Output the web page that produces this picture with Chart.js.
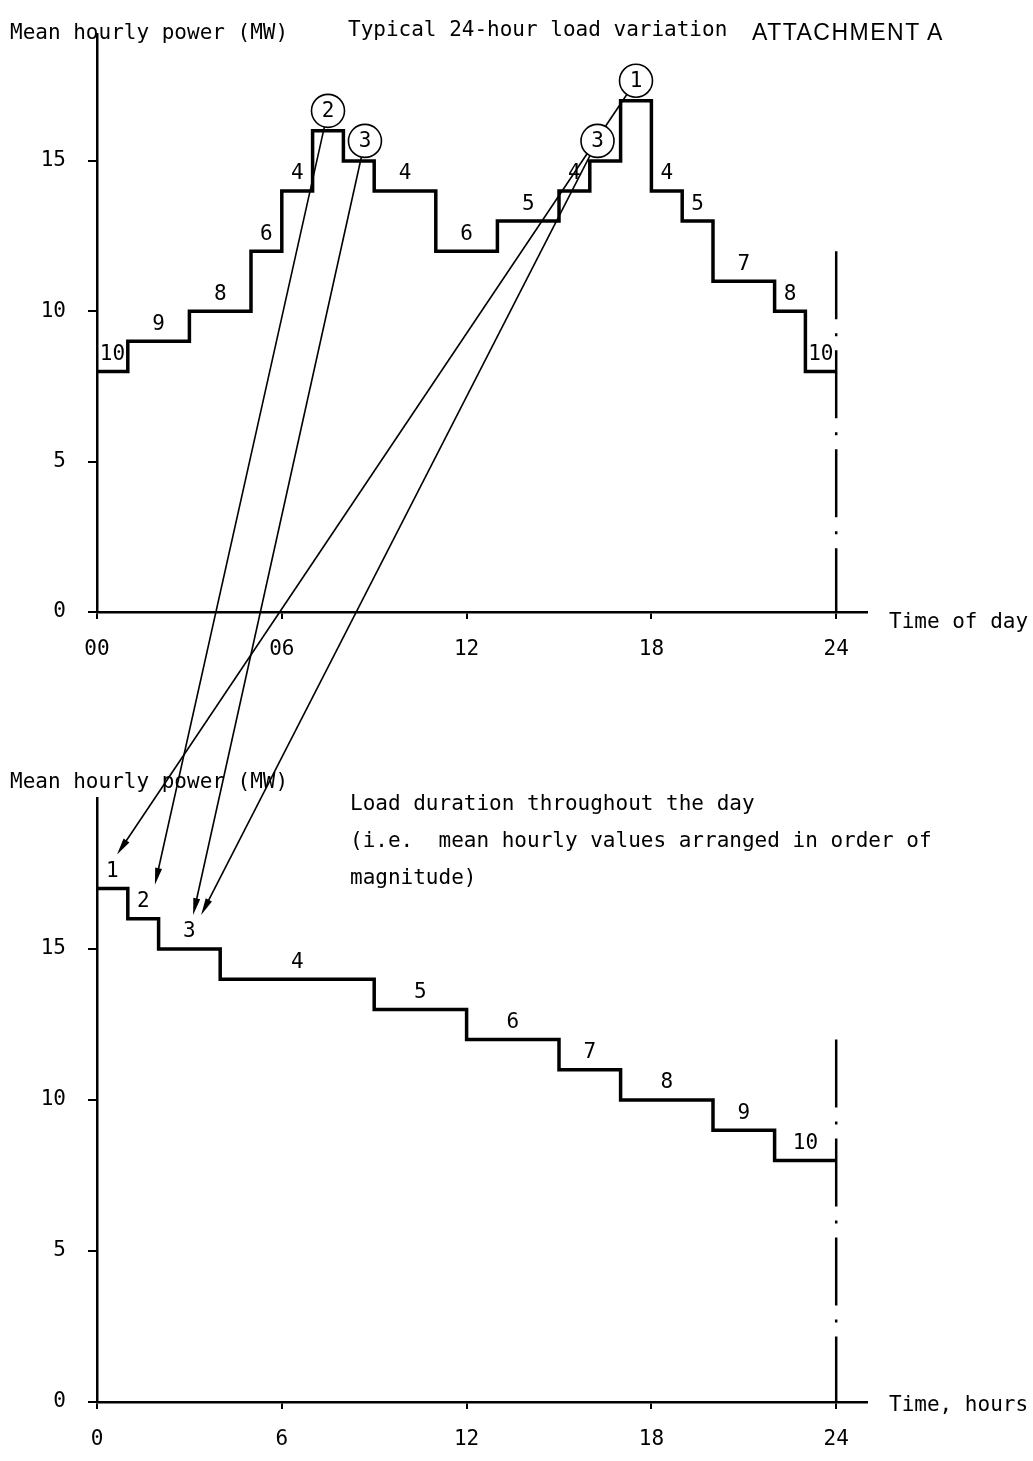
<!DOCTYPE html>
<html>
<head>
<meta charset="utf-8">
<title>Typical 24-hour load variation / load duration</title>
<script src="https://cdn.jsdelivr.net/npm/chart.js@4.4.1/dist/chart.umd.min.js"></script>
<style>
  html, body { margin: 0; padding: 0; background: #fff; }
  #page { position: relative; width: 1033px; height: 1461px; overflow: hidden; }
  #page canvas { position: absolute; left: 0; top: 0; }
  #attachment { position: absolute; left: 752px; top: 21px; font: 23px "Liberation Sans", Arial, sans-serif; letter-spacing: 1.5px; line-height: 1; color: #000; }
</style>
</head>
<body>
<div id="page">
  <canvas id="dayChart" width="1033" height="1461"></canvas>
  <canvas id="durationChart" width="1033" height="1461"></canvas>
  <div id="attachment">ATTACHMENT A</div>
</div>
<script>
// mean hourly load (MW), hours 00..23
const hourlyLoad = [8, 9, 9, 10, 10, 12, 14, 16, 15, 14, 14, 12, 12, 13, 13, 14, 15, 17, 14, 13, 11, 11, 10, 8];
// the same hours arranged in order of magnitude
const durationLoad = [17, 16, 15, 15, 14, 14, 14, 14, 14, 13, 13, 13, 12, 12, 12, 11, 11, 10, 10, 10, 9, 9, 8, 8];

const xTickHours = [0, 6, 12, 18, 24];
const dayTickLabels = ['00', '06', '12', '18', '24'];
const durationTickLabels = ['0', '6', '12', '18', '24'];
const yTickValues = [0, 5, 10, 15];

// rank numbers written over the steps of the daily curve
const dayRankHours = [0.5, 2, 4, 5.5, 6.5, 10, 12, 14, 15.5, 18.5, 19.5, 21, 22.5, 23.5];
const dayRankLoads = [8, 9, 10, 12, 14, 14, 12, 13, 14, 14, 13, 11, 10, 8];
const dayRanks = ['10', '9', '8', '6', '4', '4', '6', '5', '4', '4', '5', '7', '8', '10'];

// circled ranks at the peaks of the daily curve
const peakRanks = ['1', '2', '3', '3'];
const peakHours = [17.5, 7.5, 8.7, 16.25];
const peakLoads = [17, 16, 15, 15];

// rank numbers on the duration curve
const durRankHours = [0.5, 1.5, 3, 6.5, 10.5, 13.5, 16, 18.5, 21, 23];
const durRankLoads = [17, 16, 15, 14, 13, 12, 11, 10, 9, 8];
const durRanks = ['1', '2', '3', '4', '5', '6', '7', '8', '9', '10'];

// where each circled peak's arrow lands on the duration curve
const arrowHours = [0.65, 1.88, 3.12, 3.38];
const arrowLoads = [17, 16, 15, 15];

// dash-dot end of day line
const endHour = 24;
const endLoad = 12;

const MONO = '"DejaVu Sans Mono", monospace';

function stepPoints(values) {
  const pts = values.map((v, h) => ({x: h, y: v}));
  pts.push({x: values.length, y: values[values.length - 1]});
  return pts;
}

function arrow(ctx, x0, y0, x1, y1) {
  const len = Math.hypot(x1 - x0, y1 - y0);
  const ux = (x1 - x0) / len, uy = (y1 - y0) / len;
  const head = 17, half = 3.5;
  ctx.beginPath();
  ctx.moveTo(x0, y0);
  ctx.lineTo(x1 - ux * head * 0.5, y1 - uy * head * 0.5);
  ctx.stroke();
  ctx.beginPath();
  ctx.moveTo(x1, y1);
  ctx.lineTo(x1 - ux * head - uy * half, y1 - uy * head + ux * half);
  ctx.lineTo(x1 - ux * head + uy * half, y1 - uy * head - ux * half);
  ctx.closePath();
  ctx.fill();
}

function makeChart(id, values, yMax, pad, tickLabels, notes) {
  return new Chart(document.getElementById(id), {
    type: 'line',
    data: {
      datasets: [{
        data: stepPoints(values),
        stepped: true,
        borderColor: '#000',
        borderWidth: 3.5,
        borderJoinStyle: 'miter',
        pointRadius: 0
      }, {
        data: [{x: endHour, y: endLoad}, {x: endHour, y: 0}],
        borderColor: '#000',
        borderWidth: 2.5,
        borderDash: [68, 14, 3, 14],
        pointRadius: 0
      }]
    },
    options: {
      responsive: false,
      animation: false,
      events: [],
      layout: {padding: pad},
      plugins: {legend: {display: false}, tooltip: {enabled: false}},
      scales: {
        x: {
          type: 'linear', min: 0, max: 25,
          afterBuildTicks: s => { s.ticks = xTickHours.map(v => ({value: v})); },
          afterFit: s => { s.height = 56; },
          ticks: {callback: (v, i) => tickLabels[i], color: '#000', font: {family: MONO, size: 21}, padding: 18, maxRotation: 0, autoSkip: false},
          grid: {drawOnChartArea: false, tickLength: 7, color: '#000', lineWidth: 2},
          border: {color: '#000', width: 2.5}
        },
        y: {
          type: 'linear', min: 0, max: yMax,
          afterBuildTicks: s => { s.ticks = yTickValues.map(v => ({value: v})); },
          afterFit: s => { s.width = 60; },
          ticks: {callback: v => String(v), color: '#000', font: {family: MONO, size: 21}, padding: 22},
          grid: {drawOnChartArea: false, tickLength: 9, color: '#000', lineWidth: 2},
          border: {color: '#000', width: 2.5}
        }
      }
    },
    plugins: [notes]
  });
}

const dayNotes = {
  id: 'dayNotes',
  afterDraw(chart) {
    const {ctx, chartArea: a, scales: {x, y}} = chart;
    ctx.save();
    ctx.fillStyle = '#000';
    ctx.font = '21px ' + MONO;
    ctx.fillText('Mean hourly power (MW)', a.left - 87, a.top + 4);
    ctx.fillText('Typical 24-hour load variation', a.left + 251, a.top + 1);
    ctx.fillText('Time of day', a.right + 22, a.bottom + 16);
    ctx.textAlign = 'center';
    ctx.textBaseline = 'middle';
    dayRanks.forEach((r, i) => {
      ctx.fillText(r, x.getPixelForValue(dayRankHours[i]), y.getPixelForValue(dayRankLoads[i]) - 17);
    });
    ctx.restore();
  }
};

const dayChart = makeChart('dayChart', hourlyLoad, 19.2, {left: 37, right: 166, top: 28, bottom: 793}, dayTickLabels, dayNotes);

const durationNotes = {
  id: 'durationNotes',
  afterDraw(chart) {
    const {ctx, chartArea: a, scales: {x, y}} = chart;
    const dx = dayChart.scales.x, dy = dayChart.scales.y;
    ctx.save();
    ctx.fillStyle = '#000';
    ctx.strokeStyle = '#000';
    ctx.font = '21px ' + MONO;
    ctx.fillText('Mean hourly power (MW)', a.left - 87, a.top - 10);
    ctx.fillText('Load duration throughout the day', a.left + 253, a.top + 12);
    ctx.fillText('(i.e.  mean hourly values arranged in order of', a.left + 253, a.top + 49);
    ctx.fillText('magnitude)', a.left + 253, a.top + 86);
    ctx.fillText('Time, hours', a.right + 22, a.bottom + 9);

    ctx.textAlign = 'center';
    ctx.textBaseline = 'middle';
    durRanks.forEach((r, i) => {
      ctx.fillText(r, x.getPixelForValue(durRankHours[i]), y.getPixelForValue(durRankLoads[i]) - 17);
    });

    // arrows from the circled peaks down to the duration curve
    const r0 = 16.5;
    ctx.lineWidth = 1.6;
    peakRanks.forEach((r, i) => {
      const cx = dx.getPixelForValue(peakHours[i]);
      const cy = dy.getPixelForValue(peakLoads[i]) - 20;
      const tx = x.getPixelForValue(arrowHours[i]);
      const ty = y.getPixelForValue(arrowLoads[i]) - 34;
      const d = Math.hypot(tx - cx, ty - cy);
      arrow(ctx, cx + (tx - cx) / d * r0, cy + (ty - cy) / d * r0, tx, ty);
    });

    // circles drawn last so they sit over the lines
    peakRanks.forEach((r, i) => {
      const cx = dx.getPixelForValue(peakHours[i]);
      const cy = dy.getPixelForValue(peakLoads[i]) - 20;
      ctx.beginPath();
      ctx.arc(cx, cy, r0, 0, Math.PI * 2);
      ctx.fillStyle = '#fff';
      ctx.fill();
      ctx.stroke();
      ctx.fillStyle = '#000';
      ctx.fillText(r, cx, cy + 1);
    });
    ctx.restore();
  }
};

makeChart('durationChart', durationLoad, 20, {left: 37, right: 166, top: 798, bottom: 3}, durationTickLabels, durationNotes);
</script>
</body>
</html>
